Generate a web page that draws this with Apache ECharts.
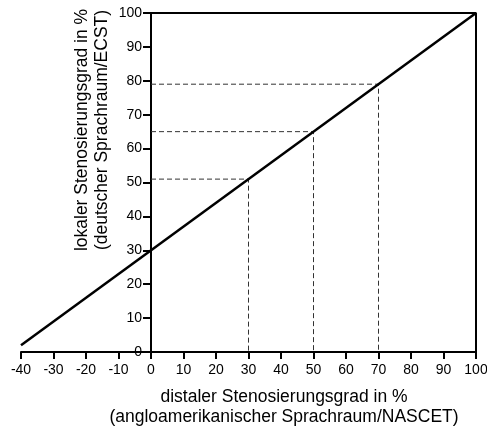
<!DOCTYPE html>
<html>
<head>
<meta charset="utf-8">
<script src="https://cdn.jsdelivr.net/npm/echarts@6/dist/echarts.min.js"></script>
<style>
  html, body { margin: 0; padding: 0; background: #fff; }
  #chart { width: 487px; height: 428px; }
</style>
</head>
<body>
<div id="chart"></div>
<script>
// NASCET (x) -> ECST (y)
var lineX = [-40, 100];
var lineY = [2, 100];
// dashed read-off guides
var guideX = [30, 50, 70];
var guideY = [51, 65, 79];
// frame of the 0..100 box
var boxX = [0, 100, 100];
var boxY = [100, 100, 0];

var font = '"Liberation Sans", Arial, sans-serif';

var chart = echarts.init(document.getElementById('chart'));

var series = [];
guideX.forEach(function (gx, i) {
  series.push({
    type: 'line',
    data: [[0, guideY[i]], [gx, guideY[i]], [gx, 0]],
    symbol: 'none',
    silent: true,
    lineStyle: { color: '#333', width: 1, type: [5, 3] },
    z: 1
  });
});
series.push({
  type: 'line',
  data: boxX.map(function (v, i) { return [v, boxY[i]]; }),
  symbol: 'none',
  silent: true,
  lineStyle: { color: '#000', width: 2 },
  z: 2
});
series.push({
  type: 'line',
  data: lineX.map(function (v, i) { return [v, lineY[i]]; }),
  symbol: 'none',
  lineStyle: { color: '#000', width: 2.5 },
  z: 3
});

// grid: 455px wide for 140 units -> x=0 sits 130px right of the left edge
var option = {
  animation: false,
  grid: { left: 21, right: 11, top: 13, bottom: 76, containLabel: false, outerBoundsMode: 'none' },
  xAxis: {
    type: 'value',
    min: -40,
    max: 100,
    interval: 10,
    name: 'distaler Stenosierungsgrad in %\n(angloamerikanischer Sprachraum/NASCET)',
    nameLocation: 'middle',
    nameGap: 35,
    nameTextStyle: { fontFamily: font, fontSize: 17.5, color: '#000', lineHeight: 20, padding: [0, 0, 0, 71] },
    axisLine: { lineStyle: { color: '#000', width: 2 } },
    axisTick: { inside: false, length: 7, lineStyle: { color: '#000', width: 2 } },
    axisLabel: { fontFamily: font, fontSize: 14, color: '#000', margin: 11 },
    splitLine: { show: false }
  },
  yAxis: {
    type: 'value',
    min: 0,
    max: 100,
    interval: 10,
    offset: -130,
    name: 'lokaler Stenosierungsgrad in %\n(deutscher Sprachraum/ECST)',
    nameLocation: 'middle',
    nameGap: 39,
    nameMoveOverlap: false,
    nameTextStyle: { fontFamily: font, fontSize: 17.5, color: '#000', lineHeight: 20, padding: [0, 0, 0, 105] },
    axisLine: { onZero: false, lineStyle: { color: '#000', width: 2 } },
    axisTick: { length: 8, lineStyle: { color: '#000', width: 2 } },
    axisLabel: { fontFamily: font, fontSize: 14, color: '#000', margin: 9 },
    splitLine: { show: false }
  },
  series: series
};
chart.setOption(option);
</script>
</body>
</html>
